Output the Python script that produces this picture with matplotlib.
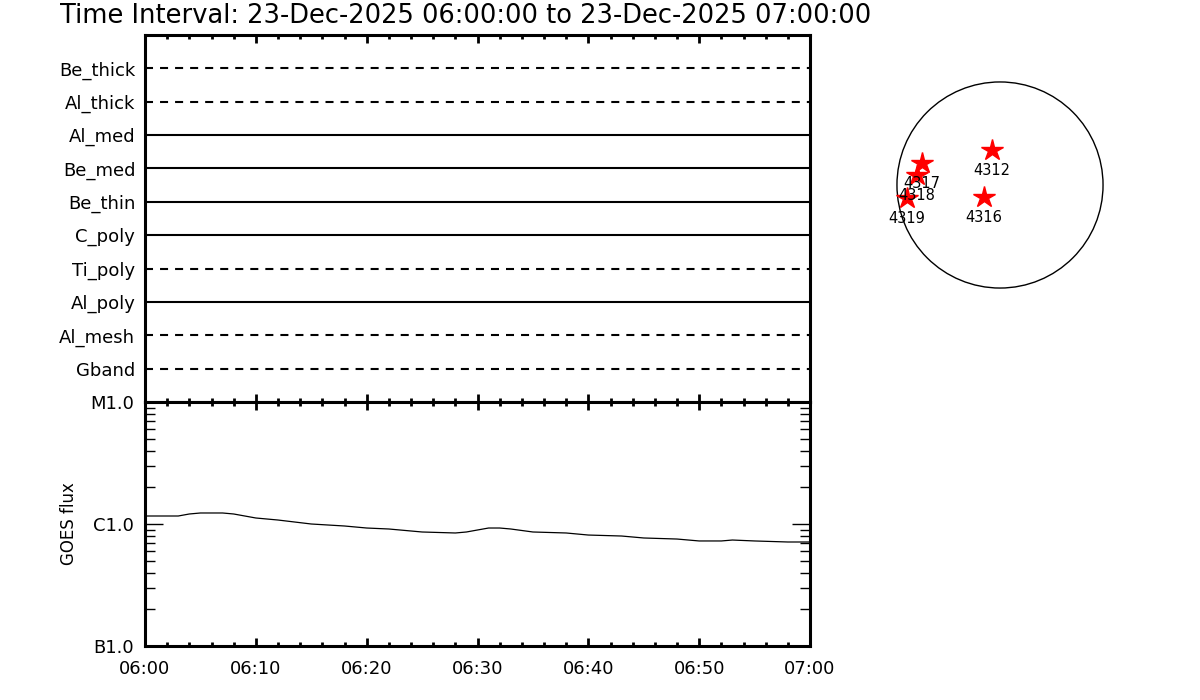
import numpy as np
import matplotlib
matplotlib.use('Agg')
import matplotlib.pyplot as plt
from matplotlib.ticker import LogLocator, NullFormatter, FixedLocator, FixedFormatter, MultipleLocator

title = 'Time Interval: 23-Dec-2025 06:00:00 to 23-Dec-2025 07:00:00'

# XRT filter channels, bottom to top
channels = ['Gband', 'Al_mesh', 'Al_poly', 'Ti_poly', 'C_poly',
            'Be_thin', 'Be_med', 'Al_med', 'Al_thick', 'Be_thick']
dashed = [True, True, False, True, False, False, False, False, True, True]

# GOES flux (minutes after 06:00, W/m^2)
goes_min = [0, 2, 3, 4, 5, 7, 8, 10, 12, 15, 18, 20, 22, 25, 28, 29, 30, 31,
            32, 33, 35, 38, 40, 43, 45, 48, 50, 52, 53, 55, 58, 60]
goes_flux = [1.163e-6, 1.163e-6, 1.163e-6, 1.208e-6, 1.231e-6, 1.231e-6, 1.208e-6,
             1.120e-6, 1.078e-6, 1.000e-6, 0.963e-6, 0.927e-6, 0.910e-6, 0.860e-6,
             0.844e-6, 0.860e-6, 0.893e-6, 0.927e-6, 0.927e-6, 0.910e-6, 0.860e-6,
             0.844e-6, 0.812e-6, 0.797e-6, 0.768e-6, 0.753e-6, 0.726e-6, 0.726e-6,
             0.739e-6, 0.726e-6, 0.712e-6, 0.712e-6]

time_ticks = [0, 10, 20, 30, 40, 50, 60]
time_labels = ['06:00', '06:10', '06:20', '06:30', '06:40', '06:50', '07:00']
flux_ticks = [1e-7, 1e-6, 1e-5]
flux_labels = ['B1.0', 'C1.0', 'M1.0']

# active regions on the disk (arcsec)
ar_num = ['4312', '4316', '4317', '4318', '4319']
ar_x = [-75, -149, -727, -774, -867]
ar_y = [326, -112, 205, 93, -121]
sun_r = 960

fig = plt.figure(figsize=(12, 7), dpi=100)

# ---- top panel: channel coverage
ax1 = fig.add_axes([145/1200, 1-402/700, 665/1200, 367/700])
for i, name in enumerate(channels):
    ls = (0, (3.85, 3.37)) if dashed[i] else '-'
    ax1.hlines(i + 1, 0, 60, colors='black', linewidth=1.5, linestyles=[ls])
ax1.set_xlim(0, 60)
ax1.set_ylim(0, len(channels) + 1)
ax1.set_yticks(np.arange(1, len(channels) + 1))
ax1.set_yticklabels(channels, fontsize=13)
ax1.tick_params(axis='y', length=0, pad=7)
ax1.xaxis.set_major_locator(FixedLocator(time_ticks))
ax1.xaxis.set_minor_locator(MultipleLocator(2))
ax1.tick_params(axis='x', which='both', direction='in', top=True, bottom=True,
                labelbottom=False, width=2)
ax1.tick_params(axis='x', which='major', length=6)
ax1.tick_params(axis='x', which='minor', length=3)
for sp in ax1.spines.values():
    sp.set_linewidth(2.2)

# ---- bottom panel: GOES
ax2 = fig.add_axes([145/1200, 1-646/700, 665/1200, 244/700])
ax2.plot(goes_min, goes_flux, color='black', linewidth=0.9)
ax2.set_yscale('log')
ax2.set_xlim(0, 60)
ax2.set_ylim(1e-7, 1e-5)
ax2.yaxis.set_major_locator(FixedLocator(flux_ticks))
ax2.yaxis.set_major_formatter(FixedFormatter(flux_labels))
ax2.yaxis.set_minor_locator(LogLocator(base=10, subs=np.arange(2, 10)))
ax2.yaxis.set_minor_formatter(NullFormatter())
ax2.xaxis.set_major_locator(FixedLocator(time_ticks))
ax2.xaxis.set_major_formatter(FixedFormatter(time_labels))
ax2.xaxis.set_minor_locator(MultipleLocator(2))
ax2.tick_params(axis='both', which='both', direction='in', top=True, right=True,
                labelsize=13, color='black')
ax2.tick_params(axis='y', which='major', length=13, width=1, pad=8)
ax2.tick_params(axis='y', which='minor', length=7, width=1)
ax2.tick_params(axis='x', which='major', length=6, width=2, pad=10)
ax2.tick_params(axis='x', which='minor', length=3, width=2)
ax2.set_ylabel('GOES flux', fontsize=12, labelpad=9)
for sp in ax2.spines.values():
    sp.set_linewidth(2.2)

# ---- solar disk with active regions
ax3 = fig.add_axes([880/1200, 1-305/700, 240/1200, 240/700])
ax3.add_patch(plt.Circle((0, 0), sun_r, fill=False, color='black', linewidth=1))
ax3.plot(ar_x, ar_y, linestyle='none', marker='*', color='red', markersize=16)
for n, x, y in zip(ar_num, ar_x, ar_y):
    ax3.annotate(n, (x, y), xytext=(0, -14.5), textcoords='offset points',
                 ha='center', va='center', fontsize=10.5)
ax3.set_xlim(-1118, 1118)
ax3.set_ylim(-1118, 1118)
ax3.set_aspect('equal')
ax3.axis('off')

fig.text(60/1200, 1-16/700, title, fontsize=18.5, ha='left', va='center')

fig.savefig('out.png', dpi=100)
